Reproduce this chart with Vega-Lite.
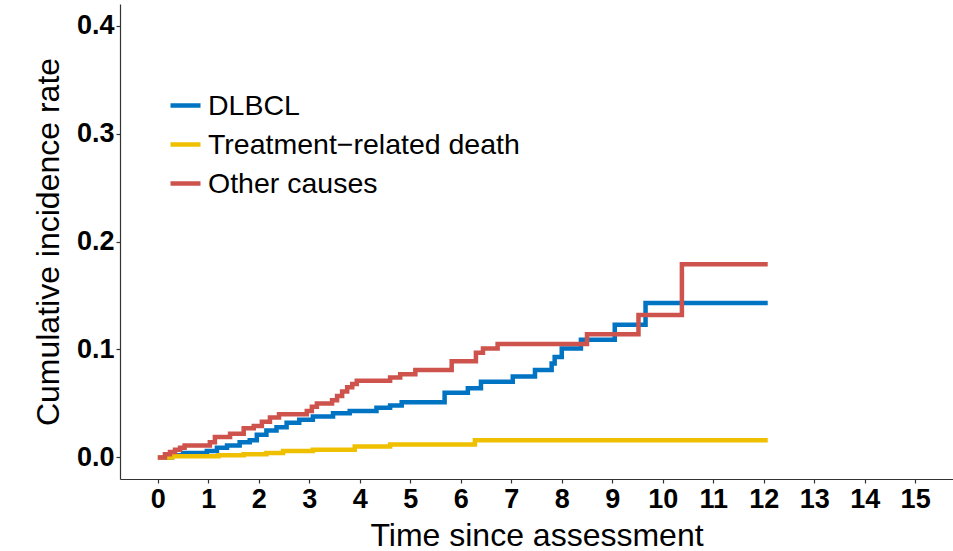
{
  "$schema": "https://vega.github.io/schema/vega-lite/v6.json",
  "width": 833,
  "height": 475,
  "autosize": {"type": "none"},
  "padding": {"left": 120, "top": 4, "right": 0, "bottom": 72},
  "background": "white",
  "config": {
    "view": {"stroke": null},
    "font": "Liberation Sans"
  },
  "data": {
    "values": [
      {"cause": "DLBCL", "t": 0, "p": 0},
      {"cause": "DLBCL", "t": 0.28, "p": 0.002},
      {"cause": "DLBCL", "t": 0.5, "p": 0.004},
      {"cause": "DLBCL", "t": 0.97, "p": 0.006},
      {"cause": "DLBCL", "t": 1.17, "p": 0.009},
      {"cause": "DLBCL", "t": 1.37, "p": 0.011},
      {"cause": "DLBCL", "t": 1.62, "p": 0.014},
      {"cause": "DLBCL", "t": 1.82, "p": 0.016},
      {"cause": "DLBCL", "t": 1.96, "p": 0.021},
      {"cause": "DLBCL", "t": 2.15, "p": 0.025},
      {"cause": "DLBCL", "t": 2.35, "p": 0.028},
      {"cause": "DLBCL", "t": 2.55, "p": 0.032},
      {"cause": "DLBCL", "t": 2.8, "p": 0.035},
      {"cause": "DLBCL", "t": 3.07, "p": 0.038},
      {"cause": "DLBCL", "t": 3.47, "p": 0.041},
      {"cause": "DLBCL", "t": 3.8, "p": 0.043},
      {"cause": "DLBCL", "t": 4.33, "p": 0.046},
      {"cause": "DLBCL", "t": 4.6, "p": 0.048},
      {"cause": "DLBCL", "t": 4.83, "p": 0.051},
      {"cause": "DLBCL", "t": 5.68, "p": 0.06},
      {"cause": "DLBCL", "t": 6.14, "p": 0.064},
      {"cause": "DLBCL", "t": 6.4, "p": 0.07},
      {"cause": "DLBCL", "t": 7.03, "p": 0.075},
      {"cause": "DLBCL", "t": 7.47, "p": 0.081},
      {"cause": "DLBCL", "t": 7.8, "p": 0.087},
      {"cause": "DLBCL", "t": 7.86, "p": 0.093},
      {"cause": "DLBCL", "t": 8.0, "p": 0.101},
      {"cause": "DLBCL", "t": 8.38, "p": 0.109},
      {"cause": "DLBCL", "t": 9.05, "p": 0.123},
      {"cause": "DLBCL", "t": 9.66, "p": 0.143},
      {"cause": "DLBCL", "t": 12.08, "p": 0.143},
      {"cause": "Treatment−related death", "t": 0, "p": 0},
      {"cause": "Treatment−related death", "t": 0.28, "p": 0.001},
      {"cause": "Treatment−related death", "t": 1.2, "p": 0.002},
      {"cause": "Treatment−related death", "t": 1.7, "p": 0.003},
      {"cause": "Treatment−related death", "t": 2.15, "p": 0.004},
      {"cause": "Treatment−related death", "t": 2.48, "p": 0.006},
      {"cause": "Treatment−related death", "t": 3.07, "p": 0.007},
      {"cause": "Treatment−related death", "t": 3.9, "p": 0.01},
      {"cause": "Treatment−related death", "t": 4.6, "p": 0.012},
      {"cause": "Treatment−related death", "t": 6.28, "p": 0.016},
      {"cause": "Treatment−related death", "t": 12.08, "p": 0.016},
      {"cause": "Other causes", "t": 0, "p": 0},
      {"cause": "Other causes", "t": 0.14, "p": 0.003},
      {"cause": "Other causes", "t": 0.24, "p": 0.005},
      {"cause": "Other causes", "t": 0.34, "p": 0.007},
      {"cause": "Other causes", "t": 0.44, "p": 0.009},
      {"cause": "Other causes", "t": 0.53, "p": 0.011},
      {"cause": "Other causes", "t": 1.03, "p": 0.014},
      {"cause": "Other causes", "t": 1.13, "p": 0.019},
      {"cause": "Other causes", "t": 1.43, "p": 0.022},
      {"cause": "Other causes", "t": 1.7, "p": 0.027},
      {"cause": "Other causes", "t": 1.9, "p": 0.029},
      {"cause": "Other causes", "t": 2.06, "p": 0.033},
      {"cause": "Other causes", "t": 2.22, "p": 0.037},
      {"cause": "Other causes", "t": 2.4, "p": 0.04},
      {"cause": "Other causes", "t": 2.95, "p": 0.043},
      {"cause": "Other causes", "t": 3.05, "p": 0.047},
      {"cause": "Other causes", "t": 3.15, "p": 0.05},
      {"cause": "Other causes", "t": 3.45, "p": 0.053},
      {"cause": "Other causes", "t": 3.55, "p": 0.057},
      {"cause": "Other causes", "t": 3.65, "p": 0.061},
      {"cause": "Other causes", "t": 3.75, "p": 0.065},
      {"cause": "Other causes", "t": 3.85, "p": 0.068},
      {"cause": "Other causes", "t": 3.94, "p": 0.071},
      {"cause": "Other causes", "t": 4.6, "p": 0.074},
      {"cause": "Other causes", "t": 4.8, "p": 0.077},
      {"cause": "Other causes", "t": 5.1, "p": 0.081},
      {"cause": "Other causes", "t": 5.82, "p": 0.089},
      {"cause": "Other causes", "t": 6.3, "p": 0.097},
      {"cause": "Other causes", "t": 6.44, "p": 0.101},
      {"cause": "Other causes", "t": 6.73, "p": 0.105},
      {"cause": "Other causes", "t": 8.5, "p": 0.114},
      {"cause": "Other causes", "t": 9.52, "p": 0.132},
      {"cause": "Other causes", "t": 10.38, "p": 0.179},
      {"cause": "Other causes", "t": 12.08, "p": 0.179}
    ]
  },
  "mark": {"type": "line", "interpolate": "step-after", "strokeWidth": 4.5, "clip": true},
  "encoding": {
    "x": {
      "field": "t", "type": "quantitative",
      "scale": {"domain": [-0.75, 15.75], "nice": false, "zero": false},
      "axis": {
        "title": "Time since assessment",
        "values": [0,1,2,3,4,5,6,7,8,9,10,11,12,13,14,15],
        "format": "d",
        "grid": false,
        "domainColor": "#333333", "domainWidth": 1.2,
        "tickColor": "#333333", "tickSize": 4, "tickWidth": 1.2,
        "labelFont": "Liberation Sans", "labelFontSize": 27, "labelFontWeight": "bold", "labelColor": "black",
        "labelPadding": 3, "labelFlush": false, "labelOverlap": false,
        "titleFont": "Liberation Sans", "titleFontSize": 32, "titleFontWeight": "normal", "titleColor": "black",
        "titlePadding": 8
      }
    },
    "y": {
      "field": "p", "type": "quantitative",
      "scale": {"domain": [-0.02, 0.42], "nice": false, "zero": false},
      "axis": {
        "title": "Cumulative incidence rate",
        "values": [0, 0.1, 0.2, 0.3, 0.4],
        "format": ".1f",
        "grid": false,
        "domainColor": "#333333", "domainWidth": 1.2,
        "tickColor": "#333333", "tickSize": 4, "tickWidth": 1.2,
        "labelFont": "Liberation Sans", "labelFontSize": 27, "labelFontWeight": "bold", "labelColor": "black",
        "labelPadding": 2, "labelFlush": false, "labelOverlap": false,
        "titleFont": "Liberation Sans", "titleFontSize": 32, "titleFontWeight": "normal", "titleColor": "black",
        "titlePadding": 11
      }
    },
    "color": {
      "field": "cause", "type": "nominal",
      "scale": {
        "domain": ["DLBCL", "Treatment−related death", "Other causes"],
        "range": ["#0073C2", "#EFC000", "#CD534C"]
      },
      "legend": {
        "title": null,
        "orient": "none",
        "legendX": 48,
        "legendY": 84,
        "padding": 0,
        "symbolType": "stroke",
        "symbolSize": 900,
        "symbolStrokeWidth": 4.5,
        "labelFont": "Liberation Sans",
        "labelFontSize": 28.5,
        "labelColor": "black",
        "labelOffset": 5,
        "labelLimit": 0,
        "rowPadding": 7,
        "symbolOpacity": 1
      }
    }
  }
}
